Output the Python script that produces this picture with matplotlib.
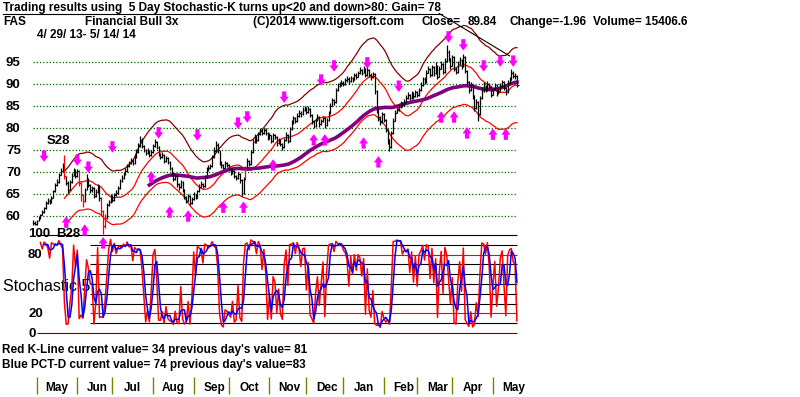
import numpy as np
import pandas as pd
import matplotlib
matplotlib.use('Agg')
import matplotlib.pyplot as plt
from matplotlib.lines import Line2D
from matplotlib.transforms import blended_transform_factory

plt.rcParams['font.family'] = ['Liberation Sans', 'DejaVu Sans']

# daily closes 4/29/13 - 5/14/14
close = [58.5, 58.2, 58.9, 59.6, 60.3, 60.9, 61.8, 62.9, 63.4, 63.1,
         64.2, 65.6, 67.0, 67.8, 69.4, 70.3, 71.1, 69.0, 67.6, 66.0,
         67.8, 69.2, 70.4, 69.1, 70.2, 67.5, 64.8, 63.4, 65.9, 68.3,
         67.0, 65.8, 66.4, 64.6, 65.5, 66.8, 64.0, 61.2, 57.8, 59.6,
         62.4, 63.1, 64.5, 63.6, 64.8, 65.2, 66.4, 67.9, 68.6, 69.5,
         70.2, 71.4, 72.0, 72.6, 72.1, 73.4, 74.6, 75.8, 77.2, 76.0,
         75.1, 74.3, 74.8, 73.9, 74.6, 75.8, 76.9, 75.6, 74.2, 73.5,
         73.9, 72.6, 73.1, 72.2, 71.0, 69.6, 68.4, 69.1, 67.2, 66.5,
         67.8, 66.0, 64.3, 63.5, 64.6, 63.0, 63.8, 64.9, 64.2, 65.6,
         66.7, 67.3, 66.8, 68.9, 70.6, 70.9, 71.3, 73.4, 74.8, 76.2,
         74.9, 72.3, 71.5, 71.0, 72.0, 71.6, 70.8, 69.8, 70.3, 69.1,
         68.6, 69.5, 68.1, 65.3, 68.4, 70.7, 72.4, 71.8, 74.6, 76.8,
         77.9, 77.2, 78.6, 79.4, 78.8, 79.6, 78.9, 77.6, 78.3, 77.1,
         78.5, 77.9, 76.6, 77.3, 76.4, 75.6, 77.2, 78.4, 77.0, 79.8,
         81.2, 82.3, 81.6, 82.8, 83.5, 83.1, 84.2, 84.6, 83.7, 84.4,
         82.9, 81.6, 80.4, 81.9, 82.6, 80.8, 81.5, 82.3, 80.6, 81.8,
         83.4, 85.1, 86.3, 85.8, 88.7, 89.6, 89.9, 90.3, 90.0, 90.8,
         91.2, 90.6, 91.3, 91.0, 92.1, 91.7, 92.4, 93.1, 92.6, 93.4,
         92.0, 93.2, 92.1, 91.5, 92.3, 88.4, 84.2, 82.6, 81.3, 83.2,
         81.8, 79.6, 77.4, 75.6, 78.9, 81.7, 83.5, 84.1, 84.8, 85.6,
         85.2, 86.0, 86.9, 87.6, 86.8, 87.9, 87.2, 88.1, 87.4, 88.6,
         89.8, 91.2, 90.5, 92.6, 93.4, 92.1, 93.8, 92.4, 94.1, 91.7,
         93.5, 94.6, 92.8, 95.2, 97.3, 95.8, 94.2, 96.1, 93.5, 92.8,
         94.6, 95.5, 94.0, 96.2, 93.0, 90.4, 88.6, 89.9, 87.3, 84.6,
         85.9, 83.2, 86.8, 88.4, 89.6, 88.7, 90.1, 89.4, 87.6, 88.8,
         89.7, 87.9, 88.5, 89.6, 90.4, 89.1, 88.2, 90.3, 91.0, 92.6,
         91.8, 91.8, 89.84]

# high above close / low below close
up = [0.6, 0.7, 0.3, 0.4, 0.2, 0.5, 0.3, 0.4, 0.6, 0.8,
      0.3, 0.4, 0.5, 0.6, 0.4, 0.7, 0.9, 4.8, 1.6, 1.9,
      0.4, 0.5, 0.6, 1.5, 0.5, 2.9, 2.9, 1.6, 0.4, 1.2,
      1.6, 1.4, 0.5, 2.0, 0.6, 0.4, 3.0, 3.1, 3.6, 0.8,
      0.5, 0.6, 0.4, 1.1, 0.5, 0.7, 0.5, 0.6, 0.8, 0.5,
      0.7, 0.4, 0.6, 0.5, 0.9, 0.5, 0.6, 0.7, 1.0, 1.8,
      1.1, 1.0, 0.6, 1.1, 0.5, 0.6, 0.6, 1.5, 1.6, 0.9,
      0.6, 1.5, 0.5, 1.1, 1.4, 1.6, 1.4, 0.5, 2.1, 0.9,
      0.4, 2.0, 1.9, 1.0, 0.5, 1.8, 0.6, 0.5, 0.9, 0.4,
      0.6, 0.7, 0.8, 0.5, 0.6, 0.7, 0.6, 0.5, 0.8, 0.9,
      1.6, 2.8, 1.0, 0.8, 0.4, 0.7, 1.0, 1.2, 0.5, 1.4,
      0.8, 0.4, 1.6, 3.0, 0.5, 0.6, 0.7, 0.9, 0.5, 0.6,
      0.7, 1.0, 0.5, 0.6, 0.9, 0.5, 1.0, 1.5, 0.5, 1.4,
      0.4, 0.8, 1.5, 0.5, 1.1, 1.0, 0.5, 0.6, 1.6, 0.5,
      0.6, 0.5, 0.9, 0.5, 0.6, 0.7, 0.5, 0.5, 1.1, 0.5,
      1.7, 1.5, 1.4, 0.4, 0.5, 2.0, 0.5, 0.4, 1.9, 0.5,
      0.4, 0.5, 0.6, 0.8, 0.5, 0.6, 0.6, 0.5, 0.7, 0.5,
      0.6, 0.9, 0.5, 0.7, 0.5, 0.7, 0.5, 0.8, 0.8, 0.7,
      1.7, 0.8, 1.4, 0.9, 0.5, 4.1, 4.4, 1.8, 1.5, 0.5,
      1.6, 2.4, 2.4, 2.0, 0.5, 0.5, 0.6, 0.5, 0.6, 0.5,
      0.8, 0.5, 0.6, 0.5, 1.0, 0.6, 0.9, 0.5, 0.9, 0.5,
      0.6, 0.5, 1.0, 0.6, 0.7, 1.5, 0.6, 1.7, 0.8, 2.6,
      0.6, 0.7, 2.0, 0.6, 1.5, 2.0, 1.8, 0.6, 2.8, 1.0,
      0.6, 0.7, 1.7, 0.6, 3.4, 2.8, 2.0, 0.6, 2.8, 2.9,
      0.6, 2.9, 0.5, 0.6, 0.8, 1.1, 0.6, 0.9, 2.0, 0.5,
      0.6, 2.0, 0.5, 0.6, 0.6, 1.5, 1.1, 0.5, 0.6, 0.8,
      1.1, 0.6, 2.2]
dn = [0.5, 0.3, 0.9, 0.8, 0.9, 0.7, 1.1, 1.3, 0.7, 0.4,
      1.3, 1.6, 1.5, 1.0, 1.8, 1.0, 1.1, 0.5, 0.6, 0.8,
      2.0, 1.6, 1.4, 0.5, 1.3, 0.6, 1.4, 1.3, 2.7, 2.5,
      0.5, 0.6, 0.9, 0.5, 1.1, 1.5, 0.6, 1.2, 1.8, 2.4,
      3.0, 0.9, 1.6, 0.5, 1.4, 0.6, 1.4, 1.7, 0.9, 1.1,
      0.9, 1.4, 0.8, 0.8, 0.4, 1.5, 1.4, 1.4, 1.6, 0.5,
      0.6, 0.5, 0.8, 0.5, 0.9, 1.4, 1.3, 0.4, 0.5, 0.6,
      0.7, 0.5, 0.8, 0.4, 0.5, 0.6, 0.5, 0.9, 0.6, 0.5,
      1.5, 0.6, 0.5, 0.6, 1.3, 0.5, 1.0, 1.3, 0.4, 1.6,
      1.3, 0.8, 0.4, 2.3, 1.9, 0.6, 0.7, 2.3, 1.6, 1.6,
      0.5, 0.6, 0.5, 0.4, 1.2, 0.5, 0.4, 0.5, 0.8, 0.4,
      0.5, 1.1, 0.5, 0.7, 3.3, 2.5, 1.9, 0.5, 3.0, 2.4,
      1.3, 0.5, 1.6, 1.0, 0.5, 1.0, 0.5, 0.4, 0.9, 0.5,
      1.6, 0.5, 0.6, 0.9, 0.6, 0.5, 1.8, 1.4, 0.5, 3.0,
      1.6, 1.3, 0.5, 1.4, 0.9, 0.5, 1.3, 0.7, 0.5, 0.9,
      0.5, 0.6, 0.5, 1.7, 0.9, 0.5, 0.9, 1.0, 0.5, 1.4,
      1.8, 1.9, 1.4, 0.5, 3.1, 1.1, 0.5, 0.7, 0.5, 1.0,
      0.7, 0.5, 0.9, 0.5, 1.3, 0.5, 0.9, 0.9, 0.5, 1.0,
      0.5, 1.4, 0.5, 0.5, 1.0, 0.6, 0.8, 0.9, 0.7, 2.1,
      0.5, 0.6, 1.0, 0.8, 3.5, 3.0, 2.0, 0.8, 0.9, 1.0,
      0.5, 1.0, 1.1, 0.9, 0.5, 1.3, 0.5, 1.1, 0.4, 1.4,
      1.4, 1.6, 0.5, 2.3, 1.0, 0.5, 1.9, 0.5, 1.9, 0.6,
      2.0, 1.3, 0.6, 2.6, 2.3, 0.6, 0.7, 2.1, 0.6, 0.5,
      2.0, 1.1, 0.5, 2.4, 0.6, 0.7, 0.6, 1.5, 0.6, 0.8,
      1.5, 1.5, 3.8, 1.8, 1.4, 0.5, 1.6, 0.5, 0.6, 1.4,
      1.1, 0.6, 0.8, 1.3, 1.0, 0.5, 0.6, 2.3, 0.9, 1.8,
      0.5, 0.7, 0.5]
red_days = [17, 25, 26, 27, 37, 38, 39, 115]

# signal arrows (bar index, price level of arrow centre)
sell_idx = [6, 24, 30, 43, 68, 89, 111, 116, 136, 156, 163, 181, 198, 225, 233, 244, 253, 260]
sell_val = [73.6, 72.7, 71.1, 75.7, 78.9, 78.4, 81.1, 82.5, 87.0, 90.9, 94.1, 94.8, 89.5, 100.7, 98.9, 94.1, 95.2, 95.2]
buy_idx = [18, 28, 38, 64, 74, 84, 103, 114, 130, 152, 158, 179, 187, 221, 228, 235, 249, 256]
buy_val = [58.6, 56.8, 53.9, 68.9, 60.9, 60.0, 62.0, 62.0, 71.6, 77.3, 77.3, 76.6, 72.3, 82.5, 82.5, 78.9, 78.6, 78.6]

trend_x = [220, 258]
trend_y = [106.0, 96.4]

price_levels = [95, 90, 85, 80, 75, 70, 65, 60]
stoch_black = [90, 70, 60, 50, 40, 30, 10]
stoch_red = [80, 20]
month_pos = [2, 24, 43, 65, 87, 106, 128, 148, 168, 190, 208, 227, 249]
month_lab = ['May', 'Jun', 'Jul', 'Aug', 'Sep', 'Oct', 'Nov', 'Dec', 'Jan', 'Feb', 'Mar', 'Apr', 'May']

W, H = 800, 397
X0, DX = 33, 1.847      # pixel of first bar, pixels per bar
Y95, PPU = 62, 4.4      # pixel of 95 level, pixels per point

fig = plt.figure(figsize=(W / 100, H / 100), dpi=100)
fig.patch.set_facecolor('white')

def fx(px):
    return px / W

def fy(py):
    return 1 - py / H

def ftext(px, py, s, size=8.5, weight='bold', **kw):
    fig.text(fx(px), fy(py), s, fontsize=size, fontweight=weight, va='baseline', **kw)

n = len(close)
x = np.arange(n)
c = np.array(close)
hi = c + np.array(up)
lo = c - np.array(dn)
xlim = (-X0 / DX, (W - X0) / DX)

# ---- stochastic panel
sb = 335.0
st = 233.0
ax2 = fig.add_axes([0, fy(sb), 1, (sb - st) / H])
ax2.set_xlim(xlim)
ax2.set_ylim(-2, 102)
ax2.axis('off')
ax2.patch.set_alpha(0)
ax2.text(fx(3), fy(291), 'Stochastic 5', transform=fig.transFigure,
         fontsize=11.5, va='baseline', zorder=1)
ax2.hlines([100], 2, n - 1, colors='black', lw=0.8, zorder=2)
ax2.hlines(stoch_black, 31, n - 1, colors='black', lw=0.8, zorder=2)
ax2.hlines(stoch_red, 31, n - 1, colors='red', lw=0.8, zorder=2)
ax2.hlines([0], 2, n - 1, colors='#800000', lw=0.8, zorder=2)

# 5 day %K and its 3 day average
s = pd.Series(c)
hh = pd.Series(hi).rolling(5).max()
ll = pd.Series(lo).rolling(5).min()
k = (s - ll) / (hh - ll) * 100
d = k.rolling(3).mean()
ax2.plot(x, k, color='red', lw=1.1, zorder=3)
ax2.plot(x, d, color='blue', lw=1.1, zorder=4)

# ---- price panel (covers the whole figure)
ax = fig.add_axes([0, 0, 1, 1])
ax.set_xlim(xlim)
ax.set_ylim(95 - (H - Y95) / PPU, 95 + Y95 / PPU)
ax.axis('off')
ax.patch.set_alpha(0)

ax.hlines(price_levels, 0, n - 1, colors='#006400', linestyles=(0, (1, 1.6)), lw=0.9, zorder=1)
for v in price_levels:
    ax.text((6 - X0) / DX, v - 4 / PPU, str(v), fontsize=9.5, fontweight='bold', va='baseline')

mid = s.rolling(18).mean()
ax.plot(x, mid * 1.095, color='#800000', lw=0.9, zorder=2)
ax.plot(x, mid, color='red', lw=0.9, zorder=2)
ax.plot(x, mid * 0.905, color='red', lw=0.9, zorder=2)
ma = s.rolling(64).mean()
ax.plot(x, ma, color='#800080', lw=2.6, zorder=2)

cols = ['red' if i in red_days else 'black' for i in range(n)]
ax.vlines(x, lo, hi, colors=cols, lw=0.9, zorder=3)
ax.hlines(c, x, x + 0.9, colors=cols, lw=0.9, zorder=3)

ax.plot(trend_x, trend_y, color='black', lw=0.8, zorder=3)

arrow_style = 'simple,head_width=0.65,head_length=0.45,tail_width=0.3'
for i, v in zip(sell_idx, sell_val):
    ax.annotate('', xy=(i, v - 1.3), xytext=(i, v + 1.3),
                arrowprops=dict(arrowstyle=arrow_style, color='#ff00ff', lw=0,
                                mutation_scale=10, shrinkA=0, shrinkB=0), zorder=5)
for i, v in zip(buy_idx, buy_val):
    ax.annotate('', xy=(i, v + 1.3), xytext=(i, v - 1.3),
                arrowprops=dict(arrowstyle=arrow_style, color='#ff00ff', lw=0,
                                mutation_scale=10, shrinkA=0, shrinkB=0), zorder=5)

# month axis
trans = blended_transform_factory(ax.transData, fig.transFigure)
ax.vlines(month_pos, fy(394), fy(377), colors='#808000', lw=1, transform=trans)
for p, lab in zip(month_pos, month_lab):
    ax.text(p + 11, fy(391), lab, transform=trans, ha='center', va='baseline',
            fontsize=8.5, fontweight='bold')

# ---- header and labels
ftext(3, 11.5, 'Trading results using  5 Day Stochastic-K turns up<20 and down>80: Gain= 78')
fig.add_artist(Line2D([fx(3), fx(442)], [fy(13.5), fy(13.5)], color='black', lw=0.8))
ftext(3, 25, 'FAS')
ftext(85, 25, 'Financial Bull 3x')
ftext(253, 25, '(C)2014 www.tigersoft.com')
ftext(422, 25, 'Close=')
ftext(468, 25, '89.84')
ftext(510, 25, 'Change=-1.96')
ftext(593, 25, 'Volume= 15406.6')
ftext(37, 38, '4/ 29/ 13- 5/ 14/ 14')

ftext(47, 144, 'S28', size=9.5)
ftext(28, 237, '100', size=9.5)
ftext(56, 237, 'B28', size=9.5)
ftext(28, 258, '80', size=9.5)
ftext(28, 317, '20', size=9.5)
ftext(28, 337, '0', size=9.5)

ftext(2, 353.5, "Red K-Line current value= 34 previous day's value= 81")
ftext(2, 368, "Blue PCT-D current value= 74 previous day's value=83")

fig.savefig('out.png', dpi=100)
